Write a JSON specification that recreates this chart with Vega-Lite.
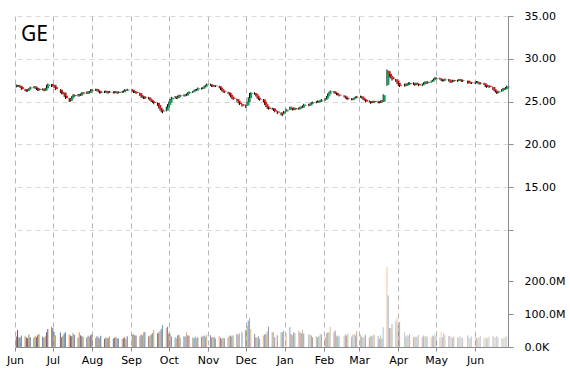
{
"$schema": "https://vega.github.io/schema/vega-lite/v6.json",
"width": 493, "height": 331,
"autosize": "none",
"padding": {"left": 15, "top": 16, "right": 62, "bottom": 23},
"background": "white",
"config": {"view": {"stroke": null}, "font": "DejaVu Sans"},
"title": {"text": "GE", "anchor": "start", "frame": "group", "orient": "top", "offset": -35, "dx": 6, "fontSize": 21, "font": "Noto Sans", "fontWeight": "normal", "color": "#000000", "baseline": "top"},
"data": {"values": [
{"d":"2014-06-02","o":26.75,"h":27.00,"l":26.65,"c":26.90,"v":32},
{"d":"2014-06-03","o":26.90,"h":26.95,"l":26.70,"c":26.80,"v":52},
{"d":"2014-06-04","o":26.80,"h":26.95,"l":26.70,"c":26.85,"v":30},
{"d":"2014-06-05","o":26.85,"h":26.90,"l":26.60,"c":26.70,"v":28},
{"d":"2014-06-06","o":26.70,"h":26.75,"l":26.35,"c":26.45,"v":35},
{"d":"2014-06-09","o":26.45,"h":26.50,"l":26.20,"c":26.30,"v":33},
{"d":"2014-06-10","o":26.30,"h":26.40,"l":26.15,"c":26.25,"v":29},
{"d":"2014-06-11","o":26.25,"h":26.45,"l":26.15,"c":26.40,"v":27},
{"d":"2014-06-12","o":26.40,"h":26.60,"l":26.30,"c":26.55,"v":38},
{"d":"2014-06-13","o":26.55,"h":26.75,"l":26.45,"c":26.65,"v":30},
{"d":"2014-06-16","o":26.60,"h":26.80,"l":26.55,"c":26.75,"v":28},
{"d":"2014-06-17","o":26.75,"h":26.80,"l":26.50,"c":26.60,"v":34},
{"d":"2014-06-18","o":26.60,"h":26.65,"l":26.35,"c":26.45,"v":30},
{"d":"2014-06-19","o":26.45,"h":26.50,"l":26.25,"c":26.35,"v":36},
{"d":"2014-06-20","o":26.35,"h":26.60,"l":26.25,"c":26.50,"v":40},
{"d":"2014-06-23","o":26.50,"h":26.55,"l":26.30,"c":26.40,"v":31},
{"d":"2014-06-24","o":26.40,"h":26.50,"l":26.20,"c":26.30,"v":29},
{"d":"2014-06-25","o":26.30,"h":26.60,"l":26.25,"c":26.55,"v":33},
{"d":"2014-06-26","o":26.55,"h":26.95,"l":26.50,"c":26.85,"v":45},
{"d":"2014-06-27","o":26.85,"h":27.10,"l":26.75,"c":27.00,"v":55},
{"d":"2014-06-30","o":27.00,"h":27.05,"l":26.70,"c":26.85,"v":62},
{"d":"2014-07-01","o":26.85,"h":27.05,"l":26.75,"c":26.95,"v":58},
{"d":"2014-07-02","o":26.95,"h":26.95,"l":26.60,"c":26.70,"v":46},
{"d":"2014-07-03","o":26.70,"h":26.75,"l":26.35,"c":26.45,"v":36},
{"d":"2014-07-07","o":26.40,"h":26.45,"l":26.00,"c":26.10,"v":44},
{"d":"2014-07-08","o":26.10,"h":26.20,"l":25.85,"c":25.95,"v":30},
{"d":"2014-07-09","o":25.95,"h":26.15,"l":25.85,"c":26.05,"v":34},
{"d":"2014-07-10","o":26.05,"h":26.05,"l":25.55,"c":25.70,"v":41},
{"d":"2014-07-11","o":25.70,"h":25.75,"l":25.30,"c":25.40,"v":45},
{"d":"2014-07-14","o":25.40,"h":25.45,"l":24.95,"c":25.10,"v":38},
{"d":"2014-07-15","o":25.10,"h":25.40,"l":25.00,"c":25.35,"v":35},
{"d":"2014-07-16","o":25.35,"h":25.65,"l":25.30,"c":25.60,"v":33},
{"d":"2014-07-17","o":25.60,"h":25.85,"l":25.50,"c":25.75,"v":42},
{"d":"2014-07-18","o":25.75,"h":25.85,"l":25.55,"c":25.65,"v":37},
{"d":"2014-07-21","o":25.65,"h":25.90,"l":25.60,"c":25.80,"v":29},
{"d":"2014-07-22","o":25.80,"h":25.90,"l":25.60,"c":25.70,"v":45},
{"d":"2014-07-23","o":25.70,"h":25.95,"l":25.65,"c":25.90,"v":36},
{"d":"2014-07-24","o":25.90,"h":26.10,"l":25.85,"c":26.05,"v":33},
{"d":"2014-07-25","o":26.05,"h":26.10,"l":25.85,"c":25.95,"v":31},
{"d":"2014-07-28","o":25.95,"h":26.20,"l":25.90,"c":26.10,"v":29},
{"d":"2014-07-29","o":26.10,"h":26.20,"l":25.90,"c":26.00,"v":34},
{"d":"2014-07-30","o":26.00,"h":26.25,"l":25.95,"c":26.20,"v":31},
{"d":"2014-07-31","o":26.20,"h":26.45,"l":26.15,"c":26.35,"v":36},
{"d":"2014-08-01","o":26.35,"h":26.45,"l":26.20,"c":26.30,"v":38},
{"d":"2014-08-04","o":26.30,"h":26.50,"l":26.25,"c":26.45,"v":28},
{"d":"2014-08-05","o":26.45,"h":26.50,"l":26.20,"c":26.30,"v":33},
{"d":"2014-08-06","o":26.30,"h":26.40,"l":26.10,"c":26.20,"v":30},
{"d":"2014-08-07","o":26.20,"h":26.25,"l":25.95,"c":26.05,"v":27},
{"d":"2014-08-08","o":26.05,"h":26.20,"l":25.95,"c":26.15,"v":34},
{"d":"2014-08-11","o":26.15,"h":26.25,"l":26.00,"c":26.10,"v":25},
{"d":"2014-08-12","o":26.10,"h":26.30,"l":26.05,"c":26.20,"v":30},
{"d":"2014-08-13","o":26.20,"h":26.25,"l":25.95,"c":26.05,"v":27},
{"d":"2014-08-14","o":26.05,"h":26.20,"l":25.95,"c":26.10,"v":28},
{"d":"2014-08-15","o":26.10,"h":26.25,"l":26.00,"c":26.15,"v":33},
{"d":"2014-08-18","o":26.15,"h":26.20,"l":25.95,"c":26.05,"v":26},
{"d":"2014-08-19","o":26.05,"h":26.20,"l":25.95,"c":26.15,"v":28},
{"d":"2014-08-20","o":26.15,"h":26.25,"l":26.00,"c":26.10,"v":31},
{"d":"2014-08-21","o":26.10,"h":26.15,"l":25.90,"c":26.00,"v":26},
{"d":"2014-08-22","o":26.00,"h":26.20,"l":25.95,"c":26.15,"v":27},
{"d":"2014-08-25","o":26.15,"h":26.25,"l":26.00,"c":26.10,"v":25},
{"d":"2014-08-26","o":26.10,"h":26.30,"l":26.05,"c":26.25,"v":27},
{"d":"2014-08-27","o":26.25,"h":26.45,"l":26.20,"c":26.35,"v":30},
{"d":"2014-08-28","o":26.35,"h":26.40,"l":26.20,"c":26.30,"v":24},
{"d":"2014-08-29","o":26.30,"h":26.50,"l":26.25,"c":26.40,"v":33},
{"d":"2014-09-02","o":26.40,"h":26.45,"l":26.15,"c":26.25,"v":38},
{"d":"2014-09-03","o":26.25,"h":26.30,"l":26.00,"c":26.10,"v":40},
{"d":"2014-09-04","o":26.10,"h":26.25,"l":26.00,"c":26.15,"v":36},
{"d":"2014-09-05","o":26.15,"h":26.20,"l":25.90,"c":26.00,"v":35},
{"d":"2014-09-08","o":26.00,"h":26.05,"l":25.65,"c":25.75,"v":33},
{"d":"2014-09-09","o":25.75,"h":25.80,"l":25.45,"c":25.55,"v":38},
{"d":"2014-09-10","o":25.55,"h":25.70,"l":25.45,"c":25.60,"v":36},
{"d":"2014-09-11","o":25.60,"h":25.65,"l":25.30,"c":25.40,"v":45},
{"d":"2014-09-12","o":25.40,"h":25.60,"l":25.30,"c":25.50,"v":46},
{"d":"2014-09-15","o":25.50,"h":25.55,"l":25.25,"c":25.35,"v":32},
{"d":"2014-09-16","o":25.35,"h":25.40,"l":25.10,"c":25.20,"v":35},
{"d":"2014-09-17","o":25.20,"h":25.25,"l":24.95,"c":25.05,"v":38},
{"d":"2014-09-18","o":25.05,"h":25.15,"l":24.85,"c":24.95,"v":43},
{"d":"2014-09-19","o":24.95,"h":25.05,"l":24.70,"c":24.85,"v":52},
{"d":"2014-09-22","o":24.85,"h":24.90,"l":24.50,"c":24.60,"v":41},
{"d":"2014-09-23","o":24.60,"h":24.65,"l":24.20,"c":24.30,"v":44},
{"d":"2014-09-24","o":24.30,"h":24.40,"l":23.95,"c":24.10,"v":49},
{"d":"2014-09-25","o":24.10,"h":24.15,"l":23.75,"c":23.85,"v":55},
{"d":"2014-09-26","o":23.85,"h":24.05,"l":23.65,"c":23.95,"v":67},
{"d":"2014-09-29","o":23.95,"h":24.40,"l":23.85,"c":24.30,"v":58},
{"d":"2014-09-30","o":24.30,"h":24.70,"l":24.25,"c":24.60,"v":62},
{"d":"2014-10-01","o":24.60,"h":25.00,"l":24.55,"c":24.90,"v":41},
{"d":"2014-10-02","o":24.90,"h":25.30,"l":24.85,"c":25.25,"v":40},
{"d":"2014-10-03","o":25.25,"h":25.55,"l":25.15,"c":25.45,"v":32},
{"d":"2014-10-06","o":25.45,"h":25.65,"l":25.35,"c":25.55,"v":30},
{"d":"2014-10-07","o":25.55,"h":25.60,"l":25.30,"c":25.40,"v":27},
{"d":"2014-10-08","o":25.40,"h":25.70,"l":25.35,"c":25.60,"v":35},
{"d":"2014-10-09","o":25.60,"h":25.80,"l":25.55,"c":25.70,"v":37},
{"d":"2014-10-10","o":25.70,"h":25.80,"l":25.55,"c":25.65,"v":29},
{"d":"2014-10-13","o":25.65,"h":25.85,"l":25.60,"c":25.75,"v":33},
{"d":"2014-10-14","o":25.75,"h":25.85,"l":25.60,"c":25.70,"v":31},
{"d":"2014-10-15","o":25.70,"h":25.95,"l":25.65,"c":25.90,"v":45},
{"d":"2014-10-16","o":25.90,"h":26.10,"l":25.85,"c":26.00,"v":36},
{"d":"2014-10-17","o":26.00,"h":26.20,"l":25.95,"c":26.10,"v":34},
{"d":"2014-10-20","o":26.10,"h":26.25,"l":26.00,"c":26.20,"v":29},
{"d":"2014-10-21","o":26.20,"h":26.40,"l":26.15,"c":26.35,"v":27},
{"d":"2014-10-22","o":26.35,"h":26.45,"l":26.20,"c":26.30,"v":31},
{"d":"2014-10-23","o":26.30,"h":26.50,"l":26.25,"c":26.45,"v":27},
{"d":"2014-10-24","o":26.45,"h":26.65,"l":26.40,"c":26.55,"v":30},
{"d":"2014-10-27","o":26.55,"h":26.65,"l":26.40,"c":26.50,"v":31},
{"d":"2014-10-28","o":26.50,"h":26.70,"l":26.45,"c":26.65,"v":33},
{"d":"2014-10-29","o":26.65,"h":26.85,"l":26.60,"c":26.75,"v":35},
{"d":"2014-10-30","o":26.75,"h":26.95,"l":26.70,"c":26.90,"v":31},
{"d":"2014-10-31","o":26.90,"h":27.10,"l":26.85,"c":27.00,"v":37},
{"d":"2014-11-03","o":27.00,"h":27.10,"l":26.85,"c":26.95,"v":36},
{"d":"2014-11-04","o":26.95,"h":27.00,"l":26.70,"c":26.80,"v":29},
{"d":"2014-11-05","o":26.80,"h":26.95,"l":26.70,"c":26.90,"v":31},
{"d":"2014-11-06","o":26.90,"h":26.95,"l":26.75,"c":26.85,"v":30},
{"d":"2014-11-07","o":26.85,"h":26.90,"l":26.70,"c":26.80,"v":26},
{"d":"2014-11-10","o":26.80,"h":26.85,"l":26.55,"c":26.65,"v":33},
{"d":"2014-11-11","o":26.65,"h":26.70,"l":26.35,"c":26.45,"v":28},
{"d":"2014-11-12","o":26.45,"h":26.50,"l":26.20,"c":26.30,"v":25},
{"d":"2014-11-13","o":26.30,"h":26.35,"l":26.05,"c":26.15,"v":28},
{"d":"2014-11-14","o":26.15,"h":26.25,"l":26.00,"c":26.10,"v":27},
{"d":"2014-11-17","o":26.10,"h":26.15,"l":25.90,"c":26.00,"v":30},
{"d":"2014-11-18","o":26.00,"h":26.05,"l":25.70,"c":25.80,"v":34},
{"d":"2014-11-19","o":25.80,"h":25.85,"l":25.50,"c":25.60,"v":35},
{"d":"2014-11-20","o":25.60,"h":25.65,"l":25.30,"c":25.40,"v":32},
{"d":"2014-11-21","o":25.40,"h":25.50,"l":25.20,"c":25.30,"v":36},
{"d":"2014-11-24","o":25.30,"h":25.35,"l":25.00,"c":25.10,"v":40},
{"d":"2014-11-25","o":25.10,"h":25.15,"l":24.80,"c":24.90,"v":38},
{"d":"2014-11-26","o":24.90,"h":24.95,"l":24.60,"c":24.70,"v":42},
{"d":"2014-11-28","o":24.70,"h":24.75,"l":24.40,"c":24.50,"v":45},
{"d":"2014-12-01","o":24.50,"h":24.65,"l":24.25,"c":24.55,"v":52},
{"d":"2014-12-02","o":24.55,"h":25.00,"l":24.50,"c":24.90,"v":64},
{"d":"2014-12-03","o":24.90,"h":25.50,"l":24.85,"c":25.40,"v":80},
{"d":"2014-12-04","o":25.40,"h":26.00,"l":25.35,"c":25.90,"v":88},
{"d":"2014-12-05","o":25.90,"h":26.10,"l":25.80,"c":26.00,"v":54},
{"d":"2014-12-08","o":26.00,"h":26.10,"l":25.80,"c":25.90,"v":40},
{"d":"2014-12-09","o":25.90,"h":25.95,"l":25.60,"c":25.70,"v":30},
{"d":"2014-12-10","o":25.70,"h":25.75,"l":25.35,"c":25.45,"v":28},
{"d":"2014-12-11","o":25.45,"h":25.55,"l":25.20,"c":25.30,"v":33},
{"d":"2014-12-12","o":25.30,"h":25.40,"l":25.10,"c":25.25,"v":25},
{"d":"2014-12-15","o":25.25,"h":25.30,"l":24.90,"c":25.00,"v":35},
{"d":"2014-12-16","o":25.00,"h":25.05,"l":24.60,"c":24.70,"v":38},
{"d":"2014-12-17","o":24.70,"h":24.75,"l":24.35,"c":24.45,"v":40},
{"d":"2014-12-18","o":24.45,"h":24.50,"l":24.15,"c":24.30,"v":48},
{"d":"2014-12-19","o":24.30,"h":24.40,"l":24.05,"c":24.15,"v":62},
{"d":"2014-12-22","o":24.15,"h":24.30,"l":24.05,"c":24.20,"v":45},
{"d":"2014-12-23","o":24.20,"h":24.25,"l":23.90,"c":24.00,"v":45},
{"d":"2014-12-24","o":24.00,"h":24.05,"l":23.75,"c":23.85,"v":30},
{"d":"2014-12-26","o":23.85,"h":23.90,"l":23.55,"c":23.70,"v":36},
{"d":"2014-12-29","o":23.70,"h":23.75,"l":23.40,"c":23.50,"v":45},
{"d":"2014-12-30","o":23.50,"h":23.70,"l":23.30,"c":23.60,"v":45},
{"d":"2014-12-31","o":23.60,"h":23.90,"l":23.55,"c":23.85,"v":50},
{"d":"2015-01-02","o":23.85,"h":24.15,"l":23.80,"c":24.05,"v":42},
{"d":"2015-01-05","o":24.05,"h":24.40,"l":24.00,"c":24.30,"v":60},
{"d":"2015-01-06","o":24.30,"h":24.40,"l":24.10,"c":24.20,"v":40},
{"d":"2015-01-07","o":24.20,"h":24.25,"l":23.95,"c":24.05,"v":36},
{"d":"2015-01-08","o":24.05,"h":24.30,"l":24.00,"c":24.25,"v":45},
{"d":"2015-01-09","o":24.25,"h":24.30,"l":24.00,"c":24.10,"v":42},
{"d":"2015-01-12","o":24.10,"h":24.30,"l":24.05,"c":24.20,"v":50},
{"d":"2015-01-13","o":24.20,"h":24.40,"l":24.10,"c":24.35,"v":45},
{"d":"2015-01-14","o":24.35,"h":24.45,"l":24.20,"c":24.30,"v":42},
{"d":"2015-01-15","o":24.30,"h":24.55,"l":24.25,"c":24.50,"v":53},
{"d":"2015-01-16","o":24.50,"h":24.75,"l":24.45,"c":24.65,"v":41},
{"d":"2015-01-20","o":24.65,"h":24.75,"l":24.45,"c":24.55,"v":38},
{"d":"2015-01-21","o":24.55,"h":24.80,"l":24.50,"c":24.75,"v":37},
{"d":"2015-01-22","o":24.75,"h":24.95,"l":24.70,"c":24.90,"v":35},
{"d":"2015-01-23","o":24.90,"h":25.00,"l":24.75,"c":24.85,"v":30},
{"d":"2015-01-26","o":24.85,"h":25.05,"l":24.80,"c":24.95,"v":33},
{"d":"2015-01-27","o":24.95,"h":25.15,"l":24.90,"c":25.05,"v":29},
{"d":"2015-01-28","o":25.05,"h":25.10,"l":24.85,"c":24.95,"v":33},
{"d":"2015-01-29","o":24.95,"h":25.20,"l":24.90,"c":25.15,"v":40},
{"d":"2015-01-30","o":25.15,"h":25.30,"l":25.05,"c":25.20,"v":38},
{"d":"2015-02-02","o":25.20,"h":25.40,"l":25.10,"c":25.35,"v":30},
{"d":"2015-02-03","o":25.35,"h":25.65,"l":25.30,"c":25.60,"v":42},
{"d":"2015-02-04","o":25.60,"h":25.95,"l":25.55,"c":25.85,"v":44},
{"d":"2015-02-05","o":25.85,"h":26.15,"l":25.80,"c":26.10,"v":45},
{"d":"2015-02-06","o":26.10,"h":26.30,"l":26.05,"c":26.20,"v":62},
{"d":"2015-02-09","o":26.20,"h":26.25,"l":25.95,"c":26.05,"v":45},
{"d":"2015-02-10","o":26.05,"h":26.15,"l":25.90,"c":26.00,"v":50},
{"d":"2015-02-11","o":26.00,"h":26.05,"l":25.75,"c":25.85,"v":35},
{"d":"2015-02-12","o":25.85,"h":25.95,"l":25.70,"c":25.80,"v":32},
{"d":"2015-02-13","o":25.80,"h":25.85,"l":25.60,"c":25.70,"v":35},
{"d":"2015-02-17","o":25.70,"h":25.75,"l":25.50,"c":25.60,"v":33},
{"d":"2015-02-18","o":25.60,"h":25.65,"l":25.35,"c":25.45,"v":38},
{"d":"2015-02-19","o":25.45,"h":25.50,"l":25.25,"c":25.35,"v":35},
{"d":"2015-02-20","o":25.35,"h":25.45,"l":25.20,"c":25.30,"v":42},
{"d":"2015-02-23","o":25.30,"h":25.40,"l":25.15,"c":25.25,"v":31},
{"d":"2015-02-24","o":25.25,"h":25.40,"l":25.15,"c":25.35,"v":38},
{"d":"2015-02-25","o":25.35,"h":25.50,"l":25.25,"c":25.45,"v":40},
{"d":"2015-02-26","o":25.45,"h":25.60,"l":25.40,"c":25.55,"v":36},
{"d":"2015-02-27","o":25.55,"h":25.65,"l":25.40,"c":25.50,"v":48},
{"d":"2015-03-02","o":25.50,"h":25.70,"l":25.45,"c":25.60,"v":38},
{"d":"2015-03-03","o":25.60,"h":25.65,"l":25.35,"c":25.45,"v":32},
{"d":"2015-03-04","o":25.45,"h":25.50,"l":25.20,"c":25.30,"v":28},
{"d":"2015-03-05","o":25.30,"h":25.35,"l":25.10,"c":25.20,"v":33},
{"d":"2015-03-06","o":25.20,"h":25.25,"l":24.90,"c":25.00,"v":37},
{"d":"2015-03-09","o":25.00,"h":25.15,"l":24.90,"c":25.05,"v":29},
{"d":"2015-03-10","o":25.05,"h":25.05,"l":24.75,"c":24.85,"v":35},
{"d":"2015-03-11","o":24.85,"h":25.00,"l":24.80,"c":24.90,"v":33},
{"d":"2015-03-12","o":24.90,"h":25.10,"l":24.85,"c":25.05,"v":36},
{"d":"2015-03-13","o":25.05,"h":25.10,"l":24.85,"c":24.95,"v":38},
{"d":"2015-03-16","o":24.95,"h":25.10,"l":24.80,"c":25.00,"v":33},
{"d":"2015-03-17","o":25.00,"h":25.05,"l":24.80,"c":24.90,"v":25},
{"d":"2015-03-18","o":24.90,"h":25.15,"l":24.85,"c":25.10,"v":36},
{"d":"2015-03-19","o":25.10,"h":25.15,"l":24.90,"c":25.00,"v":25},
{"d":"2015-03-20","o":25.00,"h":25.85,"l":24.95,"c":25.75,"v":60},
{"d":"2015-03-23","o":26.95,"h":28.75,"l":26.85,"c":28.60,"v":243},
{"d":"2015-03-24","o":28.55,"h":28.60,"l":28.10,"c":28.25,"v":157},
{"d":"2015-03-25","o":28.25,"h":28.30,"l":27.85,"c":28.00,"v":58},
{"d":"2015-03-26","o":28.00,"h":28.10,"l":27.70,"c":27.85,"v":58},
{"d":"2015-03-27","o":27.85,"h":27.90,"l":27.45,"c":27.60,"v":70},
{"d":"2015-03-30","o":27.60,"h":27.65,"l":27.30,"c":27.45,"v":80},
{"d":"2015-03-31","o":27.45,"h":27.50,"l":27.05,"c":27.20,"v":88},
{"d":"2015-04-01","o":27.20,"h":27.25,"l":26.80,"c":26.95,"v":65},
{"d":"2015-04-02","o":26.95,"h":27.10,"l":26.70,"c":26.85,"v":76},
{"d":"2015-04-06","o":26.85,"h":27.10,"l":26.75,"c":27.00,"v":45},
{"d":"2015-04-07","o":27.00,"h":27.10,"l":26.80,"c":26.90,"v":32},
{"d":"2015-04-08","o":26.90,"h":27.15,"l":26.85,"c":27.05,"v":36},
{"d":"2015-04-09","o":27.05,"h":27.25,"l":26.95,"c":27.15,"v":34},
{"d":"2015-04-10","o":27.15,"h":27.25,"l":26.95,"c":27.05,"v":40},
{"d":"2015-04-13","o":27.05,"h":27.25,"l":26.95,"c":27.15,"v":30},
{"d":"2015-04-14","o":27.15,"h":27.20,"l":26.85,"c":26.95,"v":32},
{"d":"2015-04-15","o":26.95,"h":27.20,"l":26.90,"c":27.10,"v":30},
{"d":"2015-04-16","o":27.10,"h":27.20,"l":26.95,"c":27.05,"v":33},
{"d":"2015-04-17","o":27.05,"h":27.10,"l":26.80,"c":26.90,"v":38},
{"d":"2015-04-20","o":26.90,"h":27.10,"l":26.80,"c":27.00,"v":30},
{"d":"2015-04-21","o":27.00,"h":27.25,"l":26.95,"c":27.20,"v":35},
{"d":"2015-04-22","o":27.20,"h":27.35,"l":27.10,"c":27.25,"v":32},
{"d":"2015-04-23","o":27.25,"h":27.35,"l":27.05,"c":27.15,"v":34},
{"d":"2015-04-24","o":27.15,"h":27.40,"l":27.10,"c":27.30,"v":29},
{"d":"2015-04-27","o":27.30,"h":27.45,"l":27.20,"c":27.35,"v":30},
{"d":"2015-04-28","o":27.35,"h":27.55,"l":27.30,"c":27.50,"v":35},
{"d":"2015-04-29","o":27.50,"h":27.70,"l":27.45,"c":27.60,"v":33},
{"d":"2015-04-30","o":27.60,"h":27.85,"l":27.55,"c":27.75,"v":40},
{"d":"2015-05-01","o":27.75,"h":27.85,"l":27.60,"c":27.70,"v":33},
{"d":"2015-05-04","o":27.70,"h":27.80,"l":27.55,"c":27.65,"v":29},
{"d":"2015-05-05","o":27.65,"h":27.70,"l":27.40,"c":27.50,"v":47},
{"d":"2015-05-06","o":27.50,"h":27.60,"l":27.35,"c":27.45,"v":30},
{"d":"2015-05-07","o":27.45,"h":27.60,"l":27.35,"c":27.55,"v":43},
{"d":"2015-05-08","o":27.55,"h":27.70,"l":27.45,"c":27.60,"v":36},
{"d":"2015-05-11","o":27.60,"h":27.65,"l":27.35,"c":27.45,"v":34},
{"d":"2015-05-12","o":27.45,"h":27.50,"l":27.20,"c":27.30,"v":33},
{"d":"2015-05-13","o":27.30,"h":27.45,"l":27.20,"c":27.35,"v":31},
{"d":"2015-05-14","o":27.35,"h":27.55,"l":27.25,"c":27.50,"v":28},
{"d":"2015-05-15","o":27.50,"h":27.55,"l":27.30,"c":27.40,"v":33},
{"d":"2015-05-18","o":27.40,"h":27.55,"l":27.30,"c":27.45,"v":30},
{"d":"2015-05-19","o":27.45,"h":27.65,"l":27.40,"c":27.60,"v":29},
{"d":"2015-05-20","o":27.60,"h":27.65,"l":27.40,"c":27.50,"v":33},
{"d":"2015-05-21","o":27.50,"h":27.55,"l":27.30,"c":27.40,"v":30},
{"d":"2015-05-22","o":27.40,"h":27.55,"l":27.30,"c":27.45,"v":27},
{"d":"2015-05-26","o":27.45,"h":27.45,"l":27.10,"c":27.20,"v":36},
{"d":"2015-05-27","o":27.20,"h":27.40,"l":27.10,"c":27.30,"v":30},
{"d":"2015-05-28","o":27.30,"h":27.35,"l":27.10,"c":27.20,"v":26},
{"d":"2015-05-29","o":27.20,"h":27.30,"l":27.05,"c":27.15,"v":33},
{"d":"2015-06-01","o":27.15,"h":27.35,"l":27.05,"c":27.25,"v":40},
{"d":"2015-06-02","o":27.25,"h":27.40,"l":27.15,"c":27.30,"v":30},
{"d":"2015-06-03","o":27.30,"h":27.40,"l":27.10,"c":27.20,"v":27},
{"d":"2015-06-04","o":27.20,"h":27.25,"l":27.00,"c":27.10,"v":29},
{"d":"2015-06-05","o":27.10,"h":27.25,"l":27.00,"c":27.15,"v":33},
{"d":"2015-06-08","o":27.15,"h":27.20,"l":26.90,"c":27.00,"v":27},
{"d":"2015-06-09","o":27.00,"h":27.05,"l":26.70,"c":26.80,"v":30},
{"d":"2015-06-10","o":26.80,"h":26.90,"l":26.60,"c":26.75,"v":25},
{"d":"2015-06-11","o":26.75,"h":26.95,"l":26.70,"c":26.85,"v":28},
{"d":"2015-06-12","o":26.85,"h":26.90,"l":26.60,"c":26.70,"v":32},
{"d":"2015-06-15","o":26.70,"h":26.75,"l":26.35,"c":26.45,"v":33},
{"d":"2015-06-16","o":26.45,"h":26.50,"l":26.20,"c":26.30,"v":31},
{"d":"2015-06-17","o":26.30,"h":26.35,"l":26.05,"c":26.15,"v":29},
{"d":"2015-06-18","o":26.15,"h":26.20,"l":25.90,"c":26.05,"v":34},
{"d":"2015-06-19","o":26.05,"h":26.25,"l":25.95,"c":26.20,"v":30},
{"d":"2015-06-22","o":26.20,"h":26.45,"l":26.15,"c":26.40,"v":27},
{"d":"2015-06-23","o":26.40,"h":26.60,"l":26.35,"c":26.55,"v":26},
{"d":"2015-06-24","o":26.55,"h":26.60,"l":26.35,"c":26.45,"v":28},
{"d":"2015-06-25","o":26.45,"h":26.70,"l":26.40,"c":26.60,"v":33},
{"d":"2015-06-26","o":26.60,"h":26.85,"l":26.55,"c":26.80,"v":32}
]},
"encoding": {
  "x": {"field": "d", "type": "temporal",
    "scale": {"type": "utc", "nice": false, "padding": 0, "domain": [{"year": 2014, "month": 6, "date": 1, "utc": true}, {"year": 2015, "month": 6, "date": 27, "utc": true}]},
    "axis": {"orient": "bottom", "format": "%b", "tickCount": "month", "title": null, "grid": true, "gridDash": [5, 4], "gridColor": "#b4b4b4", "gridWidth": 1, "domainColor": "#8c8c8c", "tickColor": "#8c8c8c", "tickSize": 4, "labelPadding": 3, "labelFontSize": 11, "labelColor": "#000000", "labelFont": "DejaVu Sans", "labelFlush": false, "labelOverlap": false}}
},
"layer": [
  {"layer": [
    {"mark": {"type": "rule", "color": "#000000", "strokeWidth": 1},
     "encoding": {
       "y": {"field": "l", "type": "quantitative", "scale": {"domain": [-3.67, 35], "nice": false, "zero": false},
         "axis": {"orient": "right", "title": null, "values": [10, 15, 20, 25, 30, 35], "labelExpr": "datum.value == 10 ? '' : format(datum.value, '.2f')", "grid": true, "gridDash": [5, 4], "gridColor": "#d9d9d9", "domainColor": "#8c8c8c", "tickColor": "#8c8c8c", "tickSize": 5, "labelPadding": 11, "labelFontSize": 11, "labelColor": "#000000", "labelFont": "DejaVu Sans"}},
       "y2": {"field": "h"}}},
    {"mark": {"type": "bar", "width": 2, "xOffset": 1.5},
     "encoding": {
       "y": {"field": "o", "type": "quantitative"},
       "y2": {"field": "c"},
       "color": {"condition": {"test": "datum.c >= datum.o", "value": "#00a651"}, "value": "#ff0000"}
     }}
  ]},
  {"mark": {"type": "bar", "width": 1},
   "encoding": {
     "y": {"field": "v", "type": "quantitative", "scale": {"domain": [0, 1010], "nice": false},
       "axis": {"orient": "right", "title": null, "values": [0, 100, 200], "labelExpr": "datum.value == 0 ? '0.0K' : format(datum.value, '.1f') + 'M'", "grid": false, "domainColor": "#8c8c8c", "tickColor": "#8c8c8c", "tickSize": 5, "labelPadding": 11, "labelFontSize": 11, "labelColor": "#000000", "labelFont": "DejaVu Sans"}},
     "color": {"field": "d", "type": "nominal", "scale": {"range": ["#3F679C", "#A33F3C", "#7E9A45", "#6B5290", "#3A93AE", "#E9842F"]}, "legend": null},
     "opacity": {"field": "d", "type": "temporal", "scale": {"range": [1, 0.32]}, "legend": null}
   }}
],
"resolve": {"scale": {"y": "independent", "color": "independent"}, "axis": {"y": "independent"}}
}
